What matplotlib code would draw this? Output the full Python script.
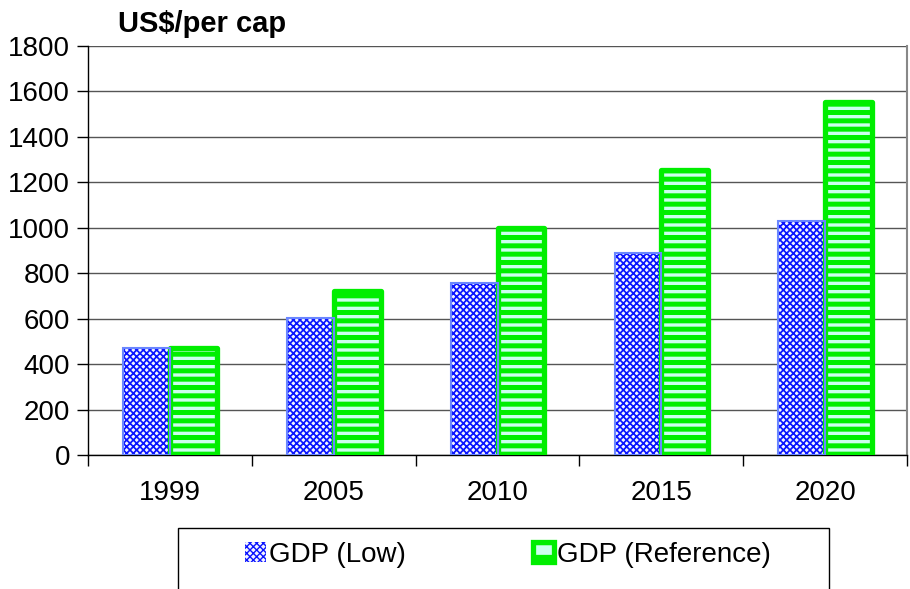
import matplotlib
matplotlib.use("Agg")
import matplotlib.pyplot as plt
import numpy as np
from matplotlib.patches import Rectangle

# datos
anios = ["1999", "2005", "2010", "2015", "2020"]
gdp_low = [472, 605, 758, 890, 1030]
gdp_ref = [473, 720, 997, 1255, 1553]
etiquetas = ["GDP (Low)", "GDP (Reference)"]

plt.rcParams['font.family'] = ['Liberation Sans', 'DejaVu Sans']
plt.rcParams['hatch.linewidth'] = 1.0

fig = plt.figure(figsize=(9.10, 5.89), dpi=100)
ax = fig.add_axes([88/910, 1-455/589, (907-88)/910, (455-46)/589])

x = np.arange(len(anios))
w = 1/3.5
b1 = ax.bar(x - w/2, gdp_low, width=w, facecolor='#f4f4ff', edgecolor='#0a14ff',
            hatch='xxxxx', linewidth=0, zorder=3, label=etiquetas[0])
b2 = ax.bar(x + w/2, gdp_ref, width=w, facecolor='#ccffee', edgecolor='#00ee00',
            hatch='--', linewidth=3.8, joinstyle='round', zorder=3, label=etiquetas[1])
for r in b1:
    if hasattr(r, 'set_hatch_linewidth'):
        r.set_hatch_linewidth(1.25)
for r in b2:
    if hasattr(r, 'set_hatch_linewidth'):
        r.set_hatch_linewidth(3.6)
# borde azul claro encima del patron
ax.bar(x - w/2, gdp_low, width=w, facecolor='none', edgecolor='#6a86ff',
       linewidth=1.5, zorder=4)

ax.set_xlim(-0.5, len(anios) - 0.5)
ax.set_ylim(0, 1800)
ax.set_yticks(np.arange(0, 1801, 200))
ax.set_xticks(x)
ax.set_xticklabels(anios)
ax.set_xticks(np.arange(-0.5, len(anios)), minor=True)
ax.tick_params(axis='x', which='major', length=0, pad=18, labelsize=20)
ax.tick_params(axis='x', which='minor', length=8, width=1, direction='out')
ax.tick_params(axis='y', length=8, width=1, direction='out', pad=5, labelsize=20)
ax.yaxis.grid(True, color='#555555', linewidth=1, zorder=0)
ax.set_axisbelow(True)

ax.spines['top'].set_visible(False)
ax.spines['right'].set_color('#888888')
ax.spines['right'].set_linewidth(1.5)
ax.spines['left'].set_linewidth(1)
ax.spines['bottom'].set_linewidth(1)

fig.text(118/910, 1-32/589, "US$/per cap", fontsize=21, fontweight='bold',
         va='baseline', ha='left')

# caja de la leyenda (cortada abajo como en el original)
caja = Rectangle((178/910, -0.05), (829-178)/910, (1-528/589)+0.05,
                 transform=fig.transFigure, facecolor='white', edgecolor='black',
                 linewidth=1, clip_on=False)
fig.patches.append(caja)
leg = fig.legend([b1, b2], etiquetas, loc='center', bbox_to_anchor=(508/910, 1-555/589),
                 ncol=2, frameon=False, fontsize=20, handlelength=0.75, handleheight=0.75,
                 handletextpad=0.09, columnspacing=4.6, borderpad=0)
for h in leg.legend_handles:
    if h.get_hatch() == '--':
        h.set_hatch('-')
        if hasattr(h, 'set_hatch_linewidth'):
            h.set_hatch_linewidth(5.0)
    elif hasattr(h, 'set_hatch_linewidth'):
        h.set_hatch_linewidth(1.0)

fig.savefig("out.png", dpi=100)
